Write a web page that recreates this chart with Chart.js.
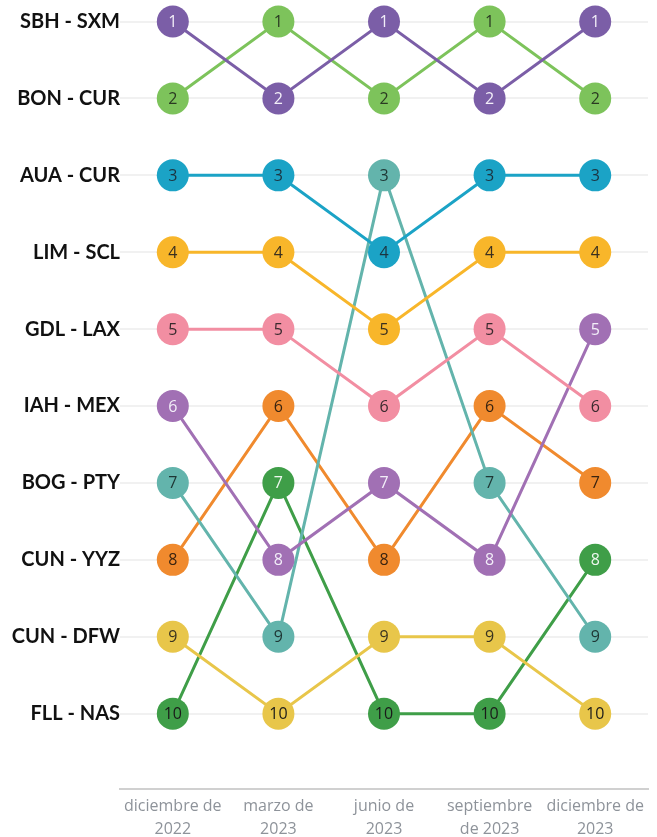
<!DOCTYPE html>
<html>
<head>
<meta charset="utf-8">
<script src="https://cdn.jsdelivr.net/npm/chart.js@4"></script>
<style>
	body { margin: 0; background: #fff; }
	canvas { display: block; }
</style>
</head>
<body>
<canvas id="bumpChart" width="657" height="837"></canvas>
<script>
// rutas en el orden del ranking de diciembre 2022
let routes = ["SBH - SXM", "BON - CUR", "AUA - CUR", "LIM - SCL", "GDL - LAX",
	"IAH - MEX", "BOG - PTY", "CUN - YYZ", "CUN - DFW", "FLL - NAS"];
let months = [["diciembre de", "2022"], ["marzo de", "2023"], ["junio de", "2023"],
	["septiembre", "de 2023"], ["diciembre de", "2023"]];
let ranks = [1, 2, 3, 4, 5, 6, 7, 8, 9, 10];

let rankSBH = [1, 2, 1, 2, 1];
let rankBON = [2, 1, 2, 1, 2];
let rankAUA = [3, 3, 4, 3, 3];
let rankLIM = [4, 4, 5, 4, 4];
let rankGDL = [5, 5, 6, 5, 6];
let rankIAH = [6, 8, 7, 8, 5];
let rankBOG = [7, 9, 3, 7, 9];
let rankYYZ = [8, 6, 8, 6, 7];
let rankDFW = [9, 10, 9, 9, 10];
let rankNAS = [10, 7, 10, 10, 8];

let seriesRanks = [rankSBH, rankBON, rankAUA, rankLIM, rankGDL, rankIAH, rankBOG, rankYYZ, rankDFW, rankNAS];
let seriesColors = ["#7b5ea7", "#7dc35b", "#1ba3c6", "#f8b62a", "#f28ea2",
	"#a170b4", "#63b4ac", "#f08a2e", "#e8c64a", "#3f9e48"];
let seriesTextColors = ["#f2eef8", "#2a3a22", "#1c3440", "#3a3020", "#3a2a2e",
	"#f2eef8", "#1e3634", "#3a2410", "#3a3420", "#eef7ee"];

let datasets = [];
for (let i = 0; i < routes.length; i++) {
	datasets.push({
		label: routes[i],
		data: seriesRanks[i],
		borderColor: seriesColors[i],
		backgroundColor: seriesColors[i],
		pointBackgroundColor: seriesColors[i],
		pointBorderWidth: 0,
		pointRadius: 16,
		pointHoverRadius: 16,
		borderWidth: 3,
		tension: 0,
		clip: false,
		textColor: seriesTextColors[i]
	});
}

// numeros dentro de los circulos
let rankLabels = {
	id: "rankLabels",
	afterDatasetsDraw(chart) {
		let ctx = chart.ctx;
		ctx.save();
		ctx.font = "16px 'Open Sans'";
		ctx.textAlign = "center";
		ctx.textBaseline = "middle";
		chart.data.datasets.forEach(function (ds, i) {
			let meta = chart.getDatasetMeta(i);
			meta.data.forEach(function (pt, j) {
				let value = ds.data[j];
				ctx.fillStyle = value == 10 ? "#1a1a1a" : ds.textColor;
				ctx.fillText(String(value), pt.x, pt.y + 1);
			});
		});
		ctx.restore();
	}
};

let ctx = document.getElementById("bumpChart").getContext("2d");
let chart = new Chart(ctx, {
	type: "line",
	data: {
		labels: months,
		datasets: datasets
	},
	options: {
		responsive: false,
		animation: false,
		layout: { padding: { left: 0, right: 9, top: 0, bottom: 0 }, autoPadding: false },
		plugins: {
			legend: { display: false },
			tooltip: { enabled: false }
		},
		scales: {
			x: {
				offset: true,
				grid: { display: false, drawTicks: false },
				border: { display: true, color: "#d0d0d0", width: 2 },
				ticks: {
					color: "#8e939a",
					font: { family: "'Open Sans'", size: 16, lineHeight: 1.45 },
					padding: 6,
					maxRotation: 0,
					autoSkip: false
				},
				afterFit: function (axis) {
					axis.paddingLeft = 0;
					axis.paddingRight = 0;
					axis.height = 48;
				}
			},
			y: {
				reverse: true,
				min: 0.72,
				max: 10.98,
				grid: { color: "#f1f1f1", lineWidth: 2, drawTicks: false },
				border: { display: false },
				ticks: {
					color: "#111",
					font: { family: "Lato", size: 20, weight: "bold" },
					padding: 0,
					callback: function (value) {
						return routes[value - 1];
					}
				},
				afterBuildTicks: function (axis) {
					axis.ticks = ranks.map(function (v) { return { value: v }; });
				},
				afterFit: function (axis) {
					axis.width = 120;
					axis.paddingTop = 0;
					axis.paddingBottom = 0;
				}
			}
		}
	},
	plugins: [rankLabels]
});
</script>
</body>
</html>
